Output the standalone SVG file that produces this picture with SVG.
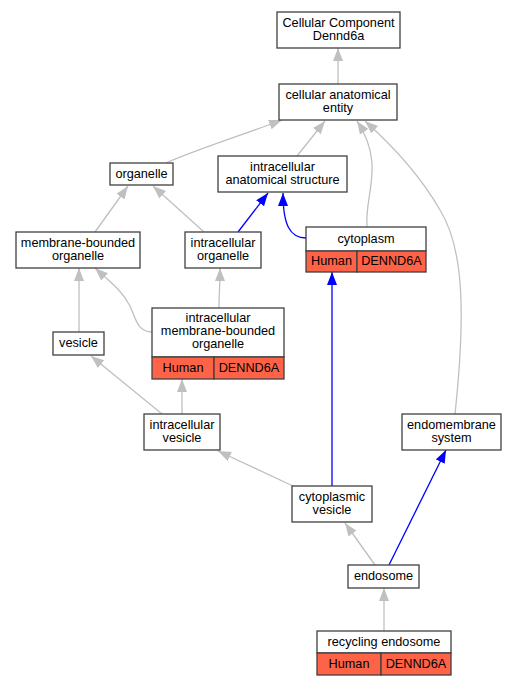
<svg xmlns="http://www.w3.org/2000/svg" width="517" height="685" viewBox="0 0 517 685">
<style>
  .bg { fill: #ffffff; }
  .box { fill: #ffffff; stroke: #404040; stroke-width: 1.3; }
  .cell { fill: #ff6347; stroke: #404040; stroke-width: 1.3; }
  text { font-family: "Liberation Sans", Arial, sans-serif; font-size: 12.7px; fill: #000000; text-anchor: middle; }
  .g { fill: none; stroke: #c0c0c0; stroke-width: 1.3; marker-end: url(#ag); }
  .b { fill: none; stroke: #0000ff; stroke-width: 1.3; marker-end: url(#ab); }
</style>
<defs>
  <marker id="ag" markerUnits="userSpaceOnUse" markerWidth="14" markerHeight="11" refX="13" refY="5" orient="auto">
    <path d="M0,0 L13,5 L0,10 Z" fill="#c0c0c0"/>
  </marker>
  <marker id="ab" markerUnits="userSpaceOnUse" markerWidth="14" markerHeight="11" refX="13" refY="5" orient="auto">
    <path d="M0,0 L13,5 L0,10 Z" fill="#0000ff"/>
  </marker>
</defs>
<rect class="bg" x="0" y="0" width="517" height="685"/>
<g id="connectors">
  <path class="g" d="M338,84 L338,48"/>
  <path class="g" d="M166,163 C195,150 240,136 282,120"/>
  <path class="g" d="M297,156 L325,121"/>
  <path class="g" d="M367,227 C364,195 386,165 357,121"/>
  <path class="g" d="M455,414 C465,320 465,250 440,210 C420,175 395,148 365,121"/>
  <path class="b" d="M238,232 L268,193"/>
  <path class="b" d="M306,238 C290,238 283,225 283,193"/>
  <path class="g" d="M95,232 L128,186"/>
  <path class="g" d="M204,232 L153,186"/>
  <path class="g" d="M79,332 L79,268"/>
  <path class="g" d="M152,332 C138,332 136,320 130,306 C122,290 108,280 95,268"/>
  <path class="g" d="M219,308 C219,295 220,285 220,268"/>
  <path class="g" d="M162,414 L91,356"/>
  <path class="g" d="M182,414 L182,379"/>
  <path class="g" d="M293,486 L218,451"/>
  <path class="b" d="M332,486 L332,272"/>
  <path class="g" d="M375,565 L345,523"/>
  <path class="b" d="M389,565 L446,450"/>
  <path class="g" d="M384,631 L384,588"/>
</g>
<g id="cc">
  <rect class="box" x="277" y="12" width="123" height="36"/>
  <text x="338.5" y="27">Cellular Component</text>
  <text x="338.5" y="39.5">Dennd6a</text>
</g>
<g id="cae">
  <rect class="box" x="279" y="84" width="118" height="36"/>
  <text x="338" y="98.5">cellular anatomical</text>
  <text x="338" y="111.5">entity</text>
</g>
<g id="organelle">
  <rect class="box" x="110" y="163" width="63" height="22"/>
  <text x="141.5" y="177.5">organelle</text>
</g>
<g id="ias">
  <rect class="box" x="218" y="156" width="129" height="36"/>
  <text x="282.5" y="170.5">intracellular</text>
  <text x="282.5" y="183.5">anatomical structure</text>
</g>
<g id="cytoplasm">
  <rect class="box" x="306" y="227" width="120" height="24"/>
  <rect class="cell" x="306" y="251" width="51" height="21"/>
  <rect class="cell" x="357" y="251" width="69" height="21"/>
  <text x="366" y="242.5">cytoplasm</text>
  <text x="331.5" y="265">Human</text>
  <text x="391.5" y="265">DENND6A</text>
</g>
<g id="mbo">
  <rect class="box" x="16" y="232" width="124" height="36"/>
  <text x="78" y="246.5">membrane-bounded</text>
  <text x="78" y="259.5">organelle</text>
</g>
<g id="io">
  <rect class="box" x="185" y="232" width="76" height="36"/>
  <text x="223" y="246.5">intracellular</text>
  <text x="223" y="259.5">organelle</text>
</g>
<g id="imbo">
  <rect class="box" x="152" y="308" width="132" height="49"/>
  <rect class="cell" x="152" y="357" width="62" height="22"/>
  <rect class="cell" x="214" y="357" width="70" height="22"/>
  <text x="218" y="321.5">intracellular</text>
  <text x="218" y="334.5">membrane-bounded</text>
  <text x="218" y="348">organelle</text>
  <text x="183" y="372">Human</text>
  <text x="249" y="372">DENND6A</text>
</g>
<g id="vesicle">
  <rect class="box" x="53" y="332" width="51" height="23"/>
  <text x="78.5" y="346.5">vesicle</text>
</g>
<g id="iv">
  <rect class="box" x="144" y="414" width="76" height="36"/>
  <text x="182" y="429">intracellular</text>
  <text x="182" y="442">vesicle</text>
</g>
<g id="es">
  <rect class="box" x="402" y="414" width="99" height="36"/>
  <text x="451.5" y="429">endomembrane</text>
  <text x="451.5" y="442">system</text>
</g>
<g id="cv">
  <rect class="box" x="292" y="486" width="80" height="36"/>
  <text x="332" y="501">cytoplasmic</text>
  <text x="332" y="514">vesicle</text>
</g>
<g id="endosome">
  <rect class="box" x="348" y="565" width="71" height="23"/>
  <text x="383.5" y="580">endosome</text>
</g>
<g id="re">
  <rect class="box" x="317" y="631" width="134" height="22"/>
  <rect class="cell" x="317" y="653" width="64" height="22"/>
  <rect class="cell" x="381" y="653" width="70" height="22"/>
  <text x="384" y="645.5">recycling endosome</text>
  <text x="349" y="667.5">Human</text>
  <text x="416" y="667.5">DENND6A</text>
</g>
</svg>
